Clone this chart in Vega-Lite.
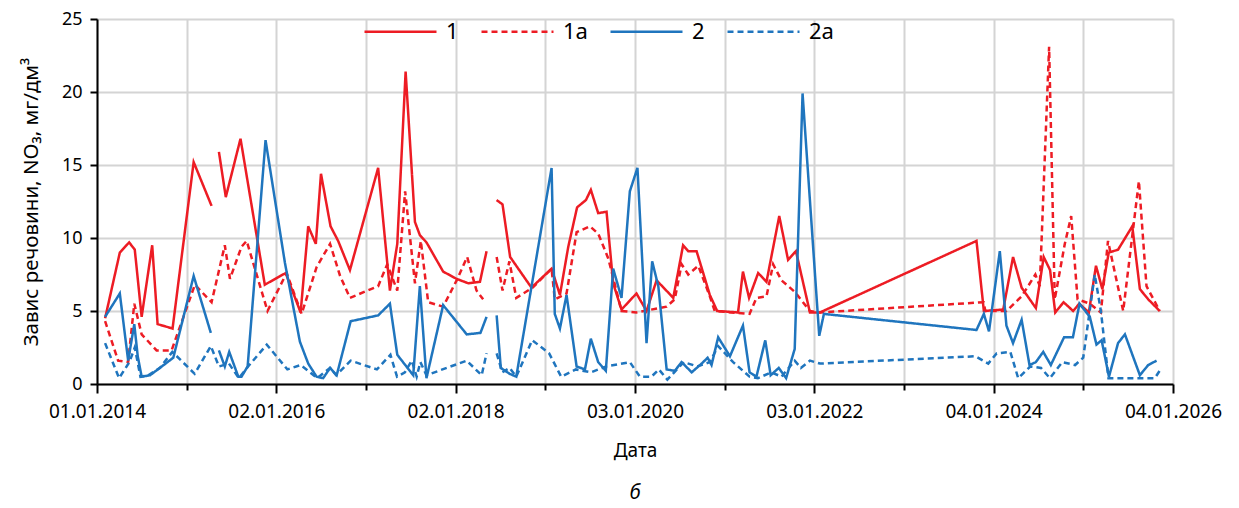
{
  "$schema": "https://vega.github.io/schema/vega-lite/v6.json",
  "width": 1076,
  "height": 365,
  "autosize": {"type": "none"},
  "padding": {"left": 97, "top": 19, "right": 66, "bottom": 124},
  "background": "white",
  "title": {"text": "б", "orient": "bottom", "fontSize": 20, "fontStyle": "italic", "fontWeight": "normal", "offset": 23, "anchor": "middle", "color": "black"},
  "data": {"values": [
    {"date":"2014-02-03","series":"1","value":4.5},
    {"date":"2014-04-04","series":"1","value":9.0},
    {"date":"2014-05-12","series":"1","value":9.7},
    {"date":"2014-06-04","series":"1","value":9.2},
    {"date":"2014-07-02","series":"1","value":4.6},
    {"date":"2014-08-14","series":"1","value":9.5},
    {"date":"2014-09-05","series":"1","value":4.1},
    {"date":"2014-11-05","series":"1","value":3.8},
    {"date":"2015-01-30","series":"1","value":15.2},
    {"date":"2015-04-13","series":"1","value":12.2},
    {"date":"2015-04-28","series":"1","value":null},
    {"date":"2015-05-13","series":"1","value":15.9},
    {"date":"2015-06-10","series":"1","value":12.8},
    {"date":"2015-08-09","series":"1","value":16.8},
    {"date":"2015-11-16","series":"1","value":6.8},
    {"date":"2016-02-09","series":"1","value":7.6},
    {"date":"2016-04-10","series":"1","value":4.9},
    {"date":"2016-05-11","series":"1","value":10.8},
    {"date":"2016-06-11","series":"1","value":9.6},
    {"date":"2016-07-02","series":"1","value":14.4},
    {"date":"2016-08-10","series":"1","value":10.8},
    {"date":"2016-09-10","series":"1","value":9.8},
    {"date":"2016-10-28","series":"1","value":7.8},
    {"date":"2017-02-20","series":"1","value":14.8},
    {"date":"2017-04-09","series":"1","value":6.4},
    {"date":"2017-05-09","series":"1","value":9.6},
    {"date":"2017-06-12","series":"1","value":21.4},
    {"date":"2017-07-20","series":"1","value":11.1},
    {"date":"2017-08-09","series":"1","value":10.2},
    {"date":"2017-09-05","series":"1","value":9.7},
    {"date":"2017-11-12","series":"1","value":7.7},
    {"date":"2018-01-06","series":"1","value":7.2},
    {"date":"2018-02-22","series":"1","value":6.9},
    {"date":"2018-04-11","series":"1","value":7.0},
    {"date":"2018-05-08","series":"1","value":9.1},
    {"date":"2018-05-28","series":"1","value":null},
    {"date":"2018-06-18","series":"1","value":12.6},
    {"date":"2018-07-12","series":"1","value":12.3},
    {"date":"2018-08-12","series":"1","value":8.7},
    {"date":"2018-11-07","series":"1","value":6.6},
    {"date":"2019-01-28","series":"1","value":7.9},
    {"date":"2019-03-03","series":"1","value":6.1},
    {"date":"2019-04-06","series":"1","value":9.4},
    {"date":"2019-05-12","series":"1","value":12.1},
    {"date":"2019-06-17","series":"1","value":12.6},
    {"date":"2019-07-07","series":"1","value":13.3},
    {"date":"2019-08-06","series":"1","value":11.7},
    {"date":"2019-09-09","series":"1","value":11.8},
    {"date":"2019-10-06","series":"1","value":6.9},
    {"date":"2019-11-09","series":"1","value":5.1},
    {"date":"2020-01-09","series":"1","value":6.2},
    {"date":"2020-02-19","series":"1","value":5.0},
    {"date":"2020-03-31","series":"1","value":7.1},
    {"date":"2020-06-07","series":"1","value":5.9},
    {"date":"2020-07-17","series":"1","value":9.5},
    {"date":"2020-08-07","series":"1","value":9.1},
    {"date":"2020-09-10","series":"1","value":9.1},
    {"date":"2020-11-03","series":"1","value":6.1},
    {"date":"2020-12-03","series":"1","value":5.0},
    {"date":"2021-02-26","series":"1","value":4.9},
    {"date":"2021-03-18","series":"1","value":7.7},
    {"date":"2021-04-12","series":"1","value":5.9},
    {"date":"2021-05-19","series":"1","value":7.6},
    {"date":"2021-06-22","series":"1","value":7.0},
    {"date":"2021-08-13","series":"1","value":11.5},
    {"date":"2021-09-18","series":"1","value":8.5},
    {"date":"2021-10-20","series":"1","value":9.1},
    {"date":"2021-12-16","series":"1","value":4.9},
    {"date":"2022-01-26","series":"1","value":4.9},
    {"date":"2023-10-26","series":"1","value":9.8},
    {"date":"2023-11-25","series":"1","value":5.0},
    {"date":"2024-02-12","series":"1","value":5.1},
    {"date":"2024-03-23","series":"1","value":8.7},
    {"date":"2024-04-27","series":"1","value":6.6},
    {"date":"2024-06-24","series":"1","value":5.2},
    {"date":"2024-07-26","series":"1","value":8.7},
    {"date":"2024-08-21","series":"1","value":7.8},
    {"date":"2024-09-11","series":"1","value":4.9},
    {"date":"2024-10-15","series":"1","value":5.6},
    {"date":"2024-11-23","series":"1","value":5.0},
    {"date":"2024-12-18","series":"1","value":5.5},
    {"date":"2025-01-26","series":"1","value":4.9},
    {"date":"2025-02-24","series":"1","value":8.1},
    {"date":"2025-03-22","series":"1","value":6.5},
    {"date":"2025-04-17","series":"1","value":9.0},
    {"date":"2025-05-25","series":"1","value":9.2},
    {"date":"2025-07-22","series":"1","value":10.8},
    {"date":"2025-08-22","series":"1","value":6.5},
    {"date":"2025-09-25","series":"1","value":5.8},
    {"date":"2025-11-11","series":"1","value":5.0},

    {"date":"2014-02-03","series":"1a","value":4.3},
    {"date":"2014-03-28","series":"1a","value":1.6},
    {"date":"2014-05-08","series":"1a","value":1.5},
    {"date":"2014-06-02","series":"1a","value":5.5},
    {"date":"2014-07-02","series":"1a","value":3.4},
    {"date":"2014-09-01","series":"1a","value":2.3},
    {"date":"2014-11-01","series":"1a","value":2.3},
    {"date":"2015-02-04","series":"1a","value":6.8},
    {"date":"2015-04-13","series":"1a","value":5.6},
    {"date":"2015-06-06","series":"1a","value":9.5},
    {"date":"2015-06-27","series":"1a","value":7.2},
    {"date":"2015-08-13","series":"1a","value":9.4},
    {"date":"2015-09-03","series":"1a","value":9.8},
    {"date":"2015-11-27","series":"1a","value":5.0},
    {"date":"2016-02-13","series":"1a","value":7.6},
    {"date":"2016-04-14","series":"1a","value":4.8},
    {"date":"2016-06-14","series":"1a","value":8.0},
    {"date":"2016-08-08","series":"1a","value":9.6},
    {"date":"2016-09-18","series":"1a","value":7.4},
    {"date":"2016-10-28","series":"1a","value":5.9},
    {"date":"2017-02-20","series":"1a","value":6.7},
    {"date":"2017-03-29","series":"1a","value":8.2},
    {"date":"2017-04-16","series":"1a","value":7.4},
    {"date":"2017-05-09","series":"1a","value":6.4},
    {"date":"2017-06-10","series":"1a","value":13.2},
    {"date":"2017-07-20","series":"1a","value":6.9},
    {"date":"2017-08-13","series":"1a","value":9.8},
    {"date":"2017-09-12","series":"1a","value":5.6},
    {"date":"2017-11-12","series":"1a","value":5.3},
    {"date":"2018-01-06","series":"1a","value":7.1},
    {"date":"2018-02-18","series":"1a","value":8.7},
    {"date":"2018-03-28","series":"1a","value":6.4},
    {"date":"2018-04-24","series":"1a","value":5.8},
    {"date":"2018-05-28","series":"1a","value":null},
    {"date":"2018-06-18","series":"1a","value":8.7},
    {"date":"2018-07-12","series":"1a","value":6.4},
    {"date":"2018-08-09","series":"1a","value":8.4},
    {"date":"2018-09-06","series":"1a","value":5.9},
    {"date":"2018-11-12","series":"1a","value":6.6},
    {"date":"2019-01-28","series":"1a","value":7.9},
    {"date":"2019-02-10","series":"1a","value":5.8},
    {"date":"2019-03-30","series":"1a","value":6.2},
    {"date":"2019-05-10","series":"1a","value":10.4},
    {"date":"2019-07-03","series":"1a","value":10.8},
    {"date":"2019-08-06","series":"1a","value":10.3},
    {"date":"2019-09-16","series":"1a","value":8.6},
    {"date":"2019-11-09","series":"1a","value":5.0},
    {"date":"2020-01-09","series":"1a","value":4.9},
    {"date":"2020-05-11","series":"1a","value":5.3},
    {"date":"2020-06-13","series":"1a","value":5.8},
    {"date":"2020-07-11","series":"1a","value":8.2},
    {"date":"2020-08-07","series":"1a","value":7.5},
    {"date":"2020-09-17","series":"1a","value":8.1},
    {"date":"2020-11-03","series":"1a","value":6.0},
    {"date":"2020-11-23","series":"1a","value":5.0},
    {"date":"2021-04-14","series":"1a","value":4.8},
    {"date":"2021-05-12","series":"1a","value":5.9},
    {"date":"2021-06-22","series":"1a","value":6.0},
    {"date":"2021-07-19","series":"1a","value":8.2},
    {"date":"2021-08-22","series":"1a","value":7.1},
    {"date":"2021-10-16","series":"1a","value":6.3},
    {"date":"2021-12-16","series":"1a","value":5.0},
    {"date":"2022-01-26","series":"1a","value":4.9},
    {"date":"2023-11-24","series":"1a","value":5.6},
    {"date":"2023-12-01","series":"1a","value":5.0},
    {"date":"2024-02-25","series":"1a","value":5.0},
    {"date":"2024-04-27","series":"1a","value":6.0},
    {"date":"2024-06-22","series":"1a","value":7.5},
    {"date":"2024-07-10","series":"1a","value":6.7},
    {"date":"2024-08-17","series":"1a","value":23.1},
    {"date":"2024-09-09","series":"1a","value":5.8},
    {"date":"2024-10-20","series":"1a","value":9.6},
    {"date":"2024-11-15","series":"1a","value":11.5},
    {"date":"2024-12-11","series":"1a","value":5.8},
    {"date":"2025-01-30","series":"1a","value":5.5},
    {"date":"2025-03-16","series":"1a","value":4.9},
    {"date":"2025-04-14","series":"1a","value":9.8},
    {"date":"2025-06-15","series":"1a","value":5.0},
    {"date":"2025-08-18","series":"1a","value":13.9},
    {"date":"2025-09-18","series":"1a","value":6.7},
    {"date":"2025-11-11","series":"1a","value":5.0},

    {"date":"2014-02-03","series":"2","value":4.6},
    {"date":"2014-04-04","series":"2","value":6.2},
    {"date":"2014-05-08","series":"2","value":1.6},
    {"date":"2014-06-02","series":"2","value":4.1},
    {"date":"2014-06-16","series":"2","value":1.9},
    {"date":"2014-07-02","series":"2","value":0.5},
    {"date":"2014-08-05","series":"2","value":0.6},
    {"date":"2014-09-14","series":"2","value":1.1},
    {"date":"2014-11-08","series":"2","value":1.8},
    {"date":"2015-01-30","series":"2","value":7.4},
    {"date":"2015-04-10","series":"2","value":3.5},
    {"date":"2015-04-28","series":"2","value":null},
    {"date":"2015-05-13","series":"2","value":2.3},
    {"date":"2015-06-06","series":"2","value":1.2},
    {"date":"2015-06-24","series":"2","value":2.2},
    {"date":"2015-07-31","series":"2","value":0.5},
    {"date":"2015-08-13","series":"2","value":0.5},
    {"date":"2015-09-07","series":"2","value":1.2},
    {"date":"2015-11-19","series":"2","value":16.7},
    {"date":"2016-02-06","series":"2","value":8.3},
    {"date":"2016-04-07","series":"2","value":2.9},
    {"date":"2016-05-11","series":"2","value":1.4},
    {"date":"2016-06-14","series":"2","value":0.5},
    {"date":"2016-07-11","series":"2","value":0.4},
    {"date":"2016-08-08","series":"2","value":1.1},
    {"date":"2016-09-04","series":"2","value":0.6},
    {"date":"2016-10-31","series":"2","value":4.3},
    {"date":"2017-02-20","series":"2","value":4.7},
    {"date":"2017-04-09","series":"2","value":5.5},
    {"date":"2017-05-09","series":"2","value":2.0},
    {"date":"2017-07-13","series":"2","value":0.6},
    {"date":"2017-08-09","series":"2","value":6.7},
    {"date":"2017-09-05","series":"2","value":0.4},
    {"date":"2017-11-12","series":"2","value":5.4},
    {"date":"2018-02-16","series":"2","value":3.4},
    {"date":"2018-04-13","series":"2","value":3.5},
    {"date":"2018-05-08","series":"2","value":4.6},
    {"date":"2018-05-28","series":"2","value":null},
    {"date":"2018-06-18","series":"2","value":4.7},
    {"date":"2018-07-05","series":"2","value":1.1},
    {"date":"2018-08-10","series":"2","value":0.7},
    {"date":"2018-09-06","series":"2","value":0.5},
    {"date":"2019-01-28","series":"2","value":14.8},
    {"date":"2019-02-10","series":"2","value":4.8},
    {"date":"2019-03-03","series":"2","value":3.8},
    {"date":"2019-03-30","series":"2","value":6.1},
    {"date":"2019-05-10","series":"2","value":1.2},
    {"date":"2019-06-13","series":"2","value":1.0},
    {"date":"2019-07-07","series":"2","value":3.1},
    {"date":"2019-08-06","series":"2","value":1.5},
    {"date":"2019-09-06","series":"2","value":0.9},
    {"date":"2019-10-06","series":"2","value":7.9},
    {"date":"2019-11-09","series":"2","value":5.9},
    {"date":"2019-12-13","series":"2","value":13.2},
    {"date":"2020-01-13","series":"2","value":14.8},
    {"date":"2020-02-19","series":"2","value":2.8},
    {"date":"2020-03-13","series":"2","value":8.4},
    {"date":"2020-04-07","series":"2","value":6.7},
    {"date":"2020-05-11","series":"2","value":1.0},
    {"date":"2020-06-13","series":"2","value":0.9},
    {"date":"2020-07-11","series":"2","value":1.5},
    {"date":"2020-08-21","series":"2","value":0.8},
    {"date":"2020-10-01","series":"2","value":1.4},
    {"date":"2020-10-25","series":"2","value":1.8},
    {"date":"2020-11-10","series":"2","value":1.3},
    {"date":"2020-12-07","series":"2","value":3.2},
    {"date":"2021-01-24","series":"2","value":1.9},
    {"date":"2021-03-18","series":"2","value":4.0},
    {"date":"2021-04-14","series":"2","value":0.8},
    {"date":"2021-05-12","series":"2","value":0.5},
    {"date":"2021-06-17","series":"2","value":3.0},
    {"date":"2021-07-09","series":"2","value":0.6},
    {"date":"2021-08-11","series":"2","value":1.1},
    {"date":"2021-09-10","series":"2","value":0.4},
    {"date":"2021-10-15","series":"2","value":2.4},
    {"date":"2021-11-16","series":"2","value":19.9},
    {"date":"2022-01-23","series":"2","value":3.3},
    {"date":"2022-02-11","series":"2","value":4.8},
    {"date":"2023-10-26","series":"2","value":3.7},
    {"date":"2023-11-25","series":"2","value":4.8},
    {"date":"2023-12-16","series":"2","value":3.6},
    {"date":"2024-01-29","series":"2","value":9.1},
    {"date":"2024-02-25","series":"2","value":4.0},
    {"date":"2024-03-23","series":"2","value":2.8},
    {"date":"2024-04-27","series":"2","value":4.4},
    {"date":"2024-05-29","series":"2","value":1.3},
    {"date":"2024-06-24","series":"2","value":1.5},
    {"date":"2024-07-24","series":"2","value":2.2},
    {"date":"2024-08-24","series":"2","value":1.3},
    {"date":"2024-10-17","series":"2","value":3.2},
    {"date":"2024-11-22","series":"2","value":3.2},
    {"date":"2024-12-19","series":"2","value":5.5},
    {"date":"2025-01-30","series":"2","value":4.6},
    {"date":"2025-02-26","series":"2","value":2.7},
    {"date":"2025-03-19","series":"2","value":3.0},
    {"date":"2025-04-18","series":"2","value":0.5},
    {"date":"2025-05-25","series":"2","value":2.8},
    {"date":"2025-06-22","series":"2","value":3.4},
    {"date":"2025-08-22","series":"2","value":0.6},
    {"date":"2025-09-25","series":"2","value":1.3},
    {"date":"2025-10-29","series":"2","value":1.6},

    {"date":"2014-02-03","series":"2a","value":2.8},
    {"date":"2014-04-01","series":"2a","value":0.4},
    {"date":"2014-05-13","series":"2a","value":1.5},
    {"date":"2014-06-04","series":"2a","value":2.5},
    {"date":"2014-06-27","series":"2a","value":0.5},
    {"date":"2014-07-29","series":"2a","value":0.6},
    {"date":"2014-09-14","series":"2a","value":1.1},
    {"date":"2014-11-04","series":"2a","value":2.2},
    {"date":"2015-02-03","series":"2a","value":0.7},
    {"date":"2015-04-10","series":"2a","value":2.6},
    {"date":"2015-05-13","series":"2a","value":1.2},
    {"date":"2015-06-23","series":"2a","value":1.4},
    {"date":"2015-08-02","series":"2a","value":0.4},
    {"date":"2015-09-09","series":"2a","value":1.2},
    {"date":"2015-11-24","series":"2a","value":2.7},
    {"date":"2016-02-16","series":"2a","value":1.0},
    {"date":"2016-04-10","series":"2a","value":1.3},
    {"date":"2016-06-17","series":"2a","value":0.4},
    {"date":"2016-08-08","series":"2a","value":1.1},
    {"date":"2016-09-02","series":"2a","value":0.6},
    {"date":"2016-10-31","series":"2a","value":1.6},
    {"date":"2017-02-15","series":"2a","value":1.0},
    {"date":"2017-04-11","series":"2a","value":2.0},
    {"date":"2017-05-08","series":"2a","value":0.5},
    {"date":"2017-06-09","series":"2a","value":0.8},
    {"date":"2017-07-07","series":"2a","value":1.6},
    {"date":"2017-07-27","series":"2a","value":0.5},
    {"date":"2017-08-11","series":"2a","value":1.5},
    {"date":"2017-09-05","series":"2a","value":0.6},
    {"date":"2018-02-16","series":"2a","value":1.6},
    {"date":"2018-04-18","series":"2a","value":0.6},
    {"date":"2018-05-08","series":"2a","value":2.1},
    {"date":"2018-05-28","series":"2a","value":null},
    {"date":"2018-06-18","series":"2a","value":2.1},
    {"date":"2018-07-11","series":"2a","value":0.8},
    {"date":"2018-08-10","series":"2a","value":1.1},
    {"date":"2018-09-06","series":"2a","value":0.5},
    {"date":"2018-11-10","series":"2a","value":3.0},
    {"date":"2019-01-18","series":"2a","value":2.1},
    {"date":"2019-03-08","series":"2a","value":0.5},
    {"date":"2019-05-07","series":"2a","value":1.0},
    {"date":"2019-07-07","series":"2a","value":0.8},
    {"date":"2019-09-08","series":"2a","value":1.2},
    {"date":"2019-12-13","series":"2a","value":1.5},
    {"date":"2020-01-23","series":"2a","value":0.5},
    {"date":"2020-03-10","series":"2a","value":0.5},
    {"date":"2020-04-09","series":"2a","value":1.0},
    {"date":"2020-05-14","series":"2a","value":0.3},
    {"date":"2020-07-20","series":"2a","value":1.5},
    {"date":"2020-09-13","series":"2a","value":1.2},
    {"date":"2020-11-03","series":"2a","value":1.5},
    {"date":"2020-12-07","series":"2a","value":2.6},
    {"date":"2021-02-06","series":"2a","value":1.5},
    {"date":"2021-04-14","series":"2a","value":0.5},
    {"date":"2021-05-18","series":"2a","value":0.4},
    {"date":"2021-07-12","series":"2a","value":0.8},
    {"date":"2021-08-22","series":"2a","value":0.5},
    {"date":"2021-10-15","series":"2a","value":1.6},
    {"date":"2021-11-09","series":"2a","value":1.1},
    {"date":"2021-12-16","series":"2a","value":1.6},
    {"date":"2022-01-26","series":"2a","value":1.4},
    {"date":"2023-10-22","series":"2a","value":1.9},
    {"date":"2023-12-13","series":"2a","value":1.4},
    {"date":"2024-01-16","series":"2a","value":2.1},
    {"date":"2024-03-12","series":"2a","value":2.2},
    {"date":"2024-04-13","series":"2a","value":0.4},
    {"date":"2024-06-01","series":"2a","value":1.2},
    {"date":"2024-07-15","series":"2a","value":1.1},
    {"date":"2024-08-20","series":"2a","value":0.4},
    {"date":"2024-10-10","series":"2a","value":1.5},
    {"date":"2024-12-01","series":"2a","value":1.3},
    {"date":"2025-01-03","series":"2a","value":1.8},
    {"date":"2025-02-19","series":"2a","value":7.5},
    {"date":"2025-03-16","series":"2a","value":5.0},
    {"date":"2025-04-16","series":"2a","value":0.4},
    {"date":"2025-08-26","series":"2a","value":0.4},
    {"date":"2025-10-22","series":"2a","value":0.4},
    {"date":"2025-11-18","series":"2a","value":1.1}
  ]},
  "mark": {"type": "line", "strokeWidth": 2.5, "clip": true},
  "encoding": {
    "x": {
      "field": "date", "type": "temporal", "title": "Дата",
      "scale": {"type": "utc", "domain": [1388534400000, 1767484800000]},
      "axis": {
        "values": [1388534400000, 1420113600000, 1451692800000, 1483272000000, 1514851200000, 1546430400000, 1578009600000, 1609588800000, 1641168000000, 1672747200000, 1704326400000, 1735905600000, 1767484800000],
        "labelExpr": "utchours(datum.value) == 0 ? utcFormat(datum.value, '%d.%m.%Y') : ''",
        "tickSize": {"condition": {"test": "utchours(datum.value) == 0", "value": 9}, "value": 6},
        "labelFontSize": 19,
        "labelPadding": 9,
        "labelFlush": false,
        "labelOverlap": false,
        "titlePadding": 20
      }
    },
    "y": {
      "field": "value", "type": "quantitative", "title": "Завис речовини, NO₃, мг/дм³",
      "scale": {"domain": [0, 25]},
      "axis": {"values": [0, 5, 10, 15, 20, 25], "tickSize": 7, "labelPadding": 8, "titlePadding": 20, "titleFontSize": 20.5}
    },
    "color": {
      "field": "series", "type": "nominal", "title": null,
      "scale": {"domain": ["1", "1a", "2", "2a"], "range": ["#ED1C24", "#ED1C24", "#1F75BE", "#1F75BE"]}
    },
    "strokeDash": {
      "field": "series", "type": "nominal", "title": null,
      "scale": {"domain": ["1", "1a", "2", "2a"], "range": [[1, 0], [6, 4], [1, 0], [6, 4]]}
    }
  },
  "config": {
    "font": "Noto Sans",
    "view": {"stroke": null},
    "axis": {
      "domainColor": "black", "domainWidth": 2,
      "tickColor": "black", "tickWidth": 2,
      "labelFontSize": 18, "labelColor": "black",
      "gridColor": "#D4D4D4", "gridWidth": 2,
      "titleFontSize": 19, "titleFontWeight": "normal", "titleColor": "black"
    },
    "legend": {
      "orient": "none", "legendX": 266, "legendY": -25,
      "direction": "horizontal",
      "symbolType": "stroke", "symbolSize": 5184, "symbolStrokeWidth": 2.5,
      "labelFontSize": 22, "labelOffset": 8, "labelColor": "black",
      "columnPadding": 17
    }
  }
}
